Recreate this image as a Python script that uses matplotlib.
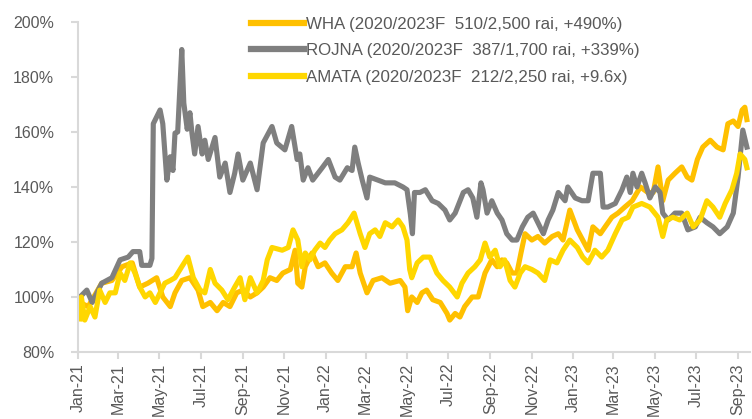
import matplotlib
matplotlib.use("Agg")
import matplotlib.pyplot as plt
import matplotlib.dates as mdates
import pandas as pd

# values (% of start level)
rojna_dates = [
    "2021-01-04", "2021-01-14", "2021-01-22", "2021-02-05", "2021-02-20", "2021-03-04",
    "2021-03-16", "2021-03-23", "2021-04-02", "2021-04-05", "2021-04-17", "2021-04-20",
    "2021-04-22", "2021-05-02", "2021-05-06", "2021-05-12", "2021-05-17", "2021-05-21",
    "2021-05-24", "2021-05-28", "2021-06-03", "2021-06-06", "2021-06-11", "2021-06-15",
    "2021-06-18", "2021-06-22", "2021-06-27", "2021-07-03", "2021-07-07", "2021-07-12",
    "2021-07-22", "2021-07-29", "2021-08-06", "2021-08-13", "2021-08-20", "2021-08-25",
    "2021-09-01", "2021-09-12", "2021-09-22", "2021-10-01", "2021-10-14", "2021-10-21",
    "2021-11-02", "2021-11-12", "2021-11-20", "2021-11-24", "2021-11-29", "2021-12-06",
    "2021-12-13", "2021-12-27", "2022-01-05", "2022-01-15", "2022-01-22", "2022-02-02",
    "2022-02-09", "2022-02-13", "2022-02-18", "2022-02-24", "2022-03-03", "2022-03-07",
    "2022-03-19", "2022-03-30", "2022-04-13", "2022-04-25", "2022-05-01", "2022-05-06",
    "2022-05-09", "2022-05-12", "2022-05-20", "2022-05-28", "2022-06-07", "2022-06-16",
    "2022-06-26", "2022-07-03", "2022-07-11", "2022-07-23", "2022-07-30", "2022-08-06",
    "2022-08-12", "2022-08-18", "2022-08-21", "2022-08-27", "2022-09-03", "2022-09-11",
    "2022-09-18", "2022-09-25", "2022-10-03", "2022-10-10", "2022-10-18", "2022-10-26",
    "2022-11-03", "2022-11-10", "2022-11-18", "2022-11-25", "2022-12-02", "2022-12-10",
    "2022-12-20", "2022-12-24", "2023-01-04", "2023-01-14", "2023-01-23", "2023-01-30",
    "2023-02-10", "2023-02-14", "2023-02-21", "2023-03-04", "2023-03-14", "2023-03-21",
    "2023-03-26", "2023-03-30", "2023-04-05", "2023-04-12", "2023-04-17", "2023-04-24",
    "2023-05-02", "2023-05-09", "2023-05-13", "2023-05-21", "2023-05-31", "2023-06-10",
    "2023-06-19", "2023-06-30", "2023-07-07", "2023-07-17", "2023-07-26", "2023-08-05",
    "2023-08-16", "2023-08-25", "2023-09-01", "2023-09-08", "2023-09-14",
]
rojna_vals = [
    100, 102.5, 98, 105, 107, 113.5,
    114.5, 116.5, 116.5, 111.5, 111.5, 114,
    163, 168, 163, 142.5, 151, 146,
    159.6, 160, 190, 170.5, 161, 167,
    159.6, 152, 162, 152, 157, 150,
    158, 143.6, 148.7, 138, 145, 152,
    142.5, 148.7, 139, 156, 162, 156,
    153.5, 162, 150, 152, 142.5, 147,
    142.5, 147, 150, 143.6, 142.5, 147,
    146, 154.5, 148.7, 142.5, 136, 143.6,
    142.5, 141.5, 141.5, 140, 139, 130,
    123, 138, 138, 139, 135, 134,
    131.6, 128, 130.5, 138, 139, 136,
    129, 141.5, 139, 130.5, 135, 130.5,
    128, 123, 120.7, 120.7, 125.5, 129,
    130.5, 127, 123, 128, 131.6, 138,
    135, 140, 136, 135, 135, 145,
    145, 132.7, 132.7, 134, 139, 143.6,
    138, 145, 140, 145, 141.5, 136,
    140, 138, 130.5, 128, 130.5, 130.5,
    124.4, 125.5, 129, 127, 125.5, 123,
    125.5, 130.5, 143.6, 160.7, 154.5,
]

wha_dates = [
    "2021-01-04", "2021-01-16", "2021-02-05", "2021-02-20", "2021-03-07", "2021-03-22",
    "2021-04-02", "2021-04-14", "2021-04-27", "2021-05-06", "2021-05-17", "2021-05-24",
    "2021-06-03", "2021-06-15", "2021-06-27", "2021-07-04", "2021-07-15", "2021-07-25",
    "2021-08-03", "2021-08-13", "2021-08-23", "2021-09-01", "2021-09-12", "2021-09-22",
    "2021-10-01", "2021-10-11", "2021-10-21", "2021-10-30", "2021-11-10", "2021-11-17",
    "2021-11-21", "2021-11-27", "2021-12-02", "2021-12-12", "2021-12-21", "2021-12-31",
    "2022-01-10", "2022-01-19", "2022-01-30", "2022-02-09", "2022-02-15", "2022-02-21",
    "2022-03-03", "2022-03-12", "2022-03-25", "2022-04-06", "2022-04-21", "2022-04-28",
    "2022-05-02", "2022-05-08", "2022-05-16", "2022-05-23", "2022-05-30", "2022-06-08",
    "2022-06-19", "2022-06-29", "2022-07-03", "2022-07-11", "2022-07-18", "2022-07-25",
    "2022-08-05", "2022-08-14", "2022-08-24", "2022-09-03", "2022-09-11", "2022-09-18",
    "2022-09-25", "2022-10-03", "2022-10-10", "2022-10-16", "2022-10-22", "2022-11-01",
    "2022-11-10", "2022-11-20", "2022-12-01", "2022-12-10", "2022-12-17", "2022-12-27",
    "2023-01-07", "2023-01-15", "2023-01-23", "2023-01-30", "2023-02-10", "2023-02-17",
    "2023-02-27", "2023-03-08", "2023-03-18", "2023-03-29", "2023-04-10", "2023-04-21",
    "2023-04-29", "2023-05-06", "2023-05-13", "2023-05-21", "2023-05-31", "2023-06-10",
    "2023-06-18", "2023-06-25", "2023-07-03", "2023-07-11", "2023-07-22", "2023-08-01",
    "2023-08-10", "2023-08-17", "2023-08-25", "2023-09-01", "2023-09-07", "2023-09-11",
    "2023-09-14",
]
wha_vals = [
    98, 96.5, 105, 106, 111, 112.4,
    103.6, 105, 107, 100, 96.5, 101.5,
    106, 107, 102.5, 96.5, 98, 95,
    98, 96.5, 101.5, 102.5, 100, 101.5,
    103.6, 107, 106, 108.7, 110, 117,
    105, 103.6, 111, 116, 111, 112.4,
    108.7, 106, 111, 111, 116, 108.7,
    101.5, 106, 107, 105, 106, 103.6,
    95, 100, 98, 101.5, 102.5, 99,
    98, 94, 91.6, 94, 92.7, 96.5,
    100, 100, 108.7, 113.5, 111, 113.5,
    112.4, 108.7, 108.7, 116, 123, 120.7,
    122, 119.6, 122, 123, 120.7, 131.6,
    124.4, 120.7, 117, 125.5, 123, 125.5,
    129, 130.5, 132.7, 135, 140, 138,
    138, 147.3, 135, 142.5, 145, 147.3,
    143.6, 142.5, 150, 154.5, 157, 154.5,
    153.5, 163, 164, 162, 168, 169,
    164.5,
]

amata_dates = [
    "2021-01-04", "2021-01-06", "2021-01-11", "2021-01-19", "2021-01-26", "2021-02-02",
    "2021-02-10", "2021-02-17", "2021-02-25", "2021-03-04", "2021-03-11", "2021-03-19",
    "2021-03-26", "2021-04-02", "2021-04-10", "2021-04-17", "2021-04-25", "2021-05-02",
    "2021-05-09", "2021-05-17", "2021-05-24", "2021-06-03", "2021-06-12", "2021-06-20",
    "2021-06-30", "2021-07-07", "2021-07-15", "2021-07-22", "2021-08-01", "2021-08-10",
    "2021-08-20", "2021-08-28", "2021-09-04", "2021-09-12", "2021-09-22", "2021-10-01",
    "2021-10-07", "2021-10-14", "2021-10-29", "2021-11-07", "2021-11-14", "2021-11-21",
    "2021-11-27", "2021-12-02", "2021-12-09", "2021-12-16", "2021-12-24", "2021-12-31",
    "2022-01-07", "2022-01-15", "2022-01-25", "2022-02-03", "2022-02-12", "2022-02-21",
    "2022-02-28", "2022-03-07", "2022-03-15", "2022-03-22", "2022-03-30", "2022-04-09",
    "2022-04-18", "2022-04-25", "2022-05-01", "2022-05-05", "2022-05-08", "2022-05-16",
    "2022-05-25", "2022-06-04", "2022-06-14", "2022-06-23", "2022-07-03", "2022-07-14",
    "2022-07-21", "2022-07-30", "2022-08-09", "2022-08-17", "2022-08-24", "2022-08-31",
    "2022-09-08", "2022-09-15", "2022-09-22", "2022-09-30", "2022-10-07", "2022-10-15",
    "2022-10-22", "2022-11-01", "2022-11-10", "2022-11-20", "2022-11-28", "2022-12-08",
    "2022-12-17", "2022-12-27", "2023-01-07", "2023-01-15", "2023-01-23", "2023-02-02",
    "2023-02-12", "2023-02-21", "2023-03-04", "2023-03-14", "2023-03-23", "2023-03-30",
    "2023-04-12", "2023-04-24", "2023-05-06", "2023-05-13", "2023-05-19", "2023-05-28",
    "2023-06-07", "2023-06-18", "2023-06-27", "2023-07-07", "2023-07-17", "2023-07-26",
    "2023-08-05", "2023-08-13", "2023-08-23", "2023-08-30", "2023-09-04", "2023-09-11",
    "2023-09-14",
]
amata_vals = [
    92, 100, 91.6, 96.5, 92.7, 102.5,
    98, 101.5, 101.5, 108.7, 106, 112.4,
    108.7, 103.6, 100, 101.5, 98, 101.5,
    105, 106, 107, 111, 114.5, 107,
    102.5, 101.5, 110, 105, 102.5, 99,
    103.6, 107, 99, 107, 101.5, 106,
    113.5, 118, 117, 118, 124.4, 120.7,
    111, 116, 113.5, 117, 119.6, 118,
    120.7, 123, 124.4, 127, 130.5, 123,
    118, 123, 124.4, 122, 127, 125.5,
    128, 125.5, 120.7, 110, 107, 112.4,
    114.5, 114.5, 108.7, 106, 103.6, 100,
    105, 108.7, 111, 113.5, 119.6, 114.5,
    117, 111, 113.5, 106, 103.6, 108.7,
    111, 110, 108.7, 106, 113.5, 112.4,
    117, 120.7, 118, 114.5, 112.4, 117,
    114.5, 117, 123, 128, 129, 132.7,
    134, 132.7, 129, 122, 128, 129,
    128, 130.5, 125.5, 128, 135, 132.7,
    129, 134, 139, 145, 152, 150,
    147,
]

labels = [
    "WHA (2020/2023F  510/2,500 rai, +490%)",
    "ROJNA (2020/2023F  387/1,700 rai, +339%)",
    "AMATA (2020/2023F  212/2,250 rai, +9.6x)",
]
colors = ["#FFC000", "#7F7F7F", "#FFD700"]

plt.rcParams["font.family"] = ["Liberation Sans", "DejaVu Sans"]

fig = plt.figure(figsize=(7.52, 4.19), dpi=100)
ax = fig.add_axes([0.1037, 0.160, 0.894, 0.7875])

series = [(wha_dates, wha_vals), (rojna_dates, rojna_vals), (amata_dates, amata_vals)]
for (d, v), lab, c in zip(series, labels, colors):
    ax.plot(pd.to_datetime(d), v, color=c, lw=3.7, label=lab, solid_joinstyle="round")

ax.set_ylim(80, 200)
ax.set_yticks(range(80, 201, 20))
ax.yaxis.set_major_formatter(matplotlib.ticker.FuncFormatter(lambda v, p: f"{int(v)}%"))
ax.set_xlim(pd.Timestamp("2021-01-01"), pd.Timestamp("2023-09-19"))
ax.xaxis.set_major_locator(mdates.MonthLocator(bymonth=[1, 3, 5, 7, 9, 11]))
ax.xaxis.set_major_formatter(mdates.DateFormatter("%b-%y"))
plt.setp(ax.get_xticklabels(), rotation=90)

for s in ["top", "right"]:
    ax.spines[s].set_visible(False)
for s in ["left", "bottom"]:
    ax.spines[s].set_color("#D9D9D9")
    ax.spines[s].set_linewidth(1.5)
ax.tick_params(axis="both", colors="#D9D9D9", labelcolor="#595959", labelsize=11.5, width=1.5)
ax.tick_params(axis="x", length=5, pad=3)
ax.tick_params(axis="y", length=5, pad=12)

leg = ax.legend(loc="upper left", bbox_to_anchor=(0.323, 0.98), bbox_transform=fig.transFigure,
                frameon=False, fontsize=12.2, handlelength=3.1, handletextpad=0.15,
                labelspacing=0.68, borderpad=0)
for t in leg.get_texts():
    t.set_color("#595959")
for h in leg.get_lines():
    h.set_linewidth(4.5)

fig.savefig("out.png", dpi=100)
